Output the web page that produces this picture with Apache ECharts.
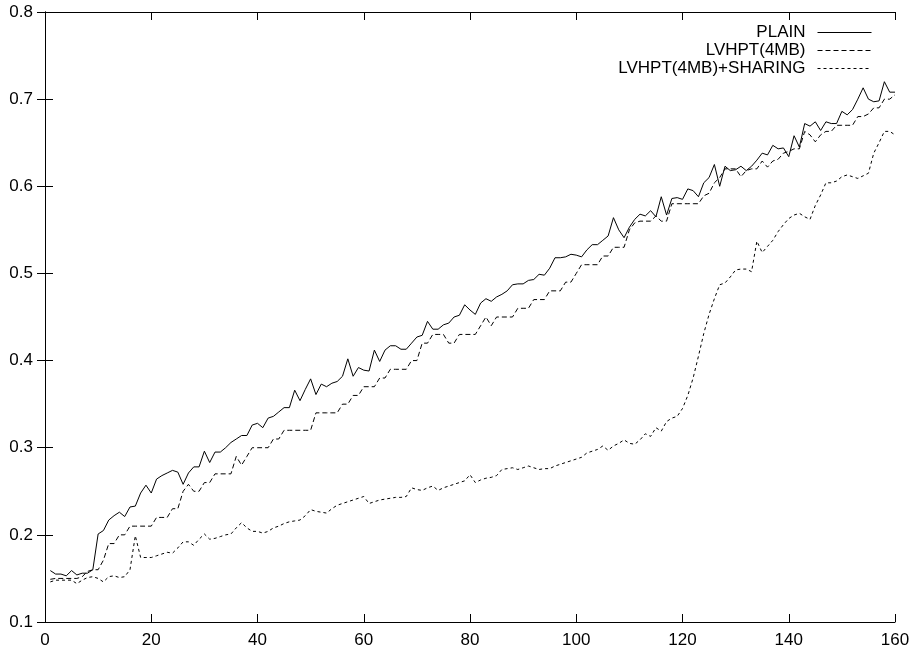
<!DOCTYPE html>
<html>
<head>
<meta charset="utf-8">
<script src="https://cdn.jsdelivr.net/npm/echarts@6.0.0/dist/echarts.min.js"></script>
<style>
html, body { margin: 0; padding: 0; background: #fff; }
#main { width: 914px; height: 651px; }
</style>
</head>
<body>
<div id="main"></div>
<script>
var seriesNames = ['PLAIN', 'LVHPT(4MB)', 'LVHPT(4MB)+SHARING'];

var xTicks = [0, 20, 40, 60, 80, 100, 120, 140, 160];
var yTicks = [0.1, 0.2, 0.3, 0.4, 0.5, 0.6, 0.7, 0.8];

// one value per run, runs 1..160
var plain = [
    0.159, 0.155, 0.155, 0.153, 0.159, 0.154, 0.156, 0.156, 0.160, 0.201,
    0.205, 0.217, 0.222, 0.226, 0.221, 0.232, 0.233, 0.248, 0.257, 0.248,
    0.264, 0.268, 0.271, 0.274, 0.272, 0.258, 0.271, 0.278, 0.278, 0.296,
    0.283, 0.295, 0.295, 0.300, 0.306, 0.310, 0.314, 0.314, 0.326, 0.328,
    0.323, 0.334, 0.336, 0.341, 0.346, 0.346, 0.366, 0.354, 0.367, 0.379,
    0.361, 0.373, 0.370, 0.374, 0.376, 0.382, 0.402, 0.382, 0.392, 0.389,
    0.388, 0.412, 0.399, 0.412, 0.417, 0.417, 0.413, 0.413, 0.420, 0.427,
    0.429, 0.445, 0.436, 0.436, 0.441, 0.443, 0.450, 0.452, 0.464, 0.458,
    0.453, 0.466, 0.471, 0.468, 0.473, 0.476, 0.480, 0.487, 0.488, 0.488,
    0.492, 0.493, 0.499, 0.498, 0.506, 0.518, 0.518, 0.519, 0.522, 0.521,
    0.519, 0.527, 0.533, 0.533, 0.538, 0.543, 0.564, 0.550, 0.541, 0.553,
    0.562, 0.568, 0.566, 0.572, 0.565, 0.588, 0.567, 0.586, 0.587, 0.585,
    0.597, 0.595, 0.588, 0.604, 0.610, 0.625, 0.600, 0.623, 0.618, 0.619,
    0.623, 0.618, 0.623, 0.630, 0.638, 0.636, 0.647, 0.643, 0.644, 0.634,
    0.658, 0.645, 0.672, 0.669, 0.674, 0.664, 0.674, 0.672, 0.672, 0.686,
    0.682, 0.688, 0.700, 0.713, 0.700, 0.697, 0.698, 0.720, 0.708, 0.708
];

var lvhpt = [
    0.149, 0.150, 0.150, 0.150, 0.150, 0.150, 0.152, 0.158, 0.160, 0.160,
    0.171, 0.190, 0.190, 0.200, 0.200, 0.210, 0.210, 0.210, 0.210, 0.210,
    0.220, 0.220, 0.220, 0.230, 0.230, 0.250, 0.258, 0.250, 0.250, 0.260,
    0.260, 0.270, 0.270, 0.270, 0.270, 0.290, 0.280, 0.290, 0.300, 0.300,
    0.300, 0.300, 0.310, 0.310, 0.320, 0.320, 0.320, 0.320, 0.320, 0.320,
    0.340, 0.340, 0.340, 0.340, 0.340, 0.350, 0.350, 0.360, 0.360, 0.370,
    0.370, 0.370, 0.380, 0.380, 0.390, 0.390, 0.390, 0.390, 0.400, 0.400,
    0.420, 0.420, 0.430, 0.430, 0.430, 0.420, 0.420, 0.430, 0.430, 0.430,
    0.430, 0.440, 0.450, 0.440, 0.450, 0.450, 0.450, 0.450, 0.460, 0.460,
    0.460, 0.470, 0.470, 0.470, 0.480, 0.480, 0.480, 0.490, 0.490, 0.500,
    0.510, 0.510, 0.510, 0.510, 0.520, 0.520, 0.530, 0.530, 0.530, 0.550,
    0.558, 0.560, 0.560, 0.560, 0.566, 0.560, 0.560, 0.580, 0.580, 0.580,
    0.580, 0.580, 0.580, 0.589, 0.592, 0.604, 0.610, 0.620, 0.620, 0.620,
    0.611, 0.618, 0.620, 0.620, 0.629, 0.622, 0.629, 0.631, 0.638, 0.640,
    0.643, 0.643, 0.663, 0.659, 0.651, 0.659, 0.663, 0.663, 0.670, 0.670,
    0.670, 0.670, 0.680, 0.680, 0.683, 0.690, 0.690, 0.700, 0.700, 0.705
];

var sharing = [
    0.146, 0.148, 0.148, 0.148, 0.148, 0.144, 0.148, 0.151, 0.152, 0.150,
    0.146, 0.152, 0.153, 0.151, 0.152, 0.160, 0.199, 0.174, 0.174, 0.174,
    0.176, 0.178, 0.180, 0.179, 0.185, 0.192, 0.192, 0.188, 0.195, 0.201,
    0.195, 0.196, 0.198, 0.200, 0.201, 0.208, 0.214, 0.208, 0.204, 0.204,
    0.202, 0.204, 0.208, 0.210, 0.213, 0.215, 0.216, 0.217, 0.222, 0.229,
    0.227, 0.226, 0.225, 0.230, 0.234, 0.236, 0.238, 0.240, 0.242, 0.244,
    0.236, 0.238, 0.240, 0.241, 0.242, 0.243, 0.243, 0.244, 0.254, 0.252,
    0.251, 0.254, 0.256, 0.251, 0.254, 0.256, 0.258, 0.260, 0.262, 0.269,
    0.260, 0.263, 0.265, 0.266, 0.268, 0.275, 0.276, 0.277, 0.275, 0.277,
    0.279, 0.277, 0.275, 0.276, 0.276, 0.279, 0.281, 0.283, 0.285, 0.287,
    0.289, 0.294, 0.296, 0.298, 0.302, 0.297, 0.302, 0.305, 0.309, 0.305,
    0.304, 0.309, 0.316, 0.313, 0.323, 0.319, 0.330, 0.334, 0.336, 0.345,
    0.360, 0.380, 0.405, 0.431, 0.453, 0.471, 0.487, 0.489, 0.496, 0.504,
    0.505, 0.505, 0.502, 0.537, 0.524, 0.531, 0.538, 0.548, 0.556, 0.563,
    0.567, 0.569, 0.565, 0.562, 0.578, 0.590, 0.604, 0.604, 0.606, 0.611,
    0.613, 0.611, 0.609, 0.612, 0.615, 0.638, 0.650, 0.663, 0.663, 0.659
];

var FONT = "'Liberation Sans', Arial, Helvetica, sans-serif";

var toPairs = function (vals) {
    var res = [];
    for (var i = 0; i < vals.length; i++) {
        res.push([i + 1, vals[i]]);
    }
    return res;
};

var mkLine = function (name, vals, dash) {
    return {
        name: name,
        type: 'line',
        data: toPairs(vals),
        symbol: 'none',
        showSymbol: false,
        animation: false,
        lineStyle: { color: '#000', width: 1, type: dash },
        itemStyle: { color: '#000' }
    };
};

var chart = echarts.init(document.getElementById('main'));

var tickLbl = { fontFamily: FONT, fontSize: 17, color: '#000' };
var frameLine = { show: true, lineStyle: { color: '#000', width: 1 } };
var inTick = { show: true, inside: true, length: 8, lineStyle: { color: '#000', width: 1 } };

chart.setOption({
    animation: false,
    backgroundColor: '#fff',
    grid: { left: 45, right: 19, top: 12, bottom: 29 },
    legend: {
        data: seriesNames,
        orient: 'vertical',
        right: 42,
        top: 24,
        padding: 0,
        align: 'right',
        itemWidth: 54,
        itemHeight: 13,
        itemGap: 1,
        itemStyle: { opacity: 0 },
        lineStyle: { width: 1 },
        textStyle: {
            fontFamily: FONT,
            fontSize: 17,
            lineHeight: 17,
            color: '#000',
            padding: [0, 7, 0, 0]
        }
    },
    xAxis: [{
        type: 'value',
        min: xTicks[0],
        max: xTicks[xTicks.length - 1],
        interval: xTicks[1] - xTicks[0],
        axisLine: frameLine,
        axisTick: inTick,
        splitLine: { show: false },
        axisLabel: Object.assign({ margin: 10 }, tickLbl)
    }, {
        type: 'value',
        position: 'top',
        min: xTicks[0],
        max: xTicks[xTicks.length - 1],
        interval: xTicks[1] - xTicks[0],
        axisLine: frameLine,
        axisTick: inTick,
        splitLine: { show: false },
        axisLabel: { show: false }
    }],
    yAxis: [{
        type: 'value',
        min: yTicks[0],
        max: yTicks[yTicks.length - 1],
        interval: 0.1,
        axisLine: frameLine,
        axisTick: inTick,
        splitLine: { show: false },
        axisLabel: Object.assign({
            margin: 12,
            formatter: function (v) { return v.toFixed(1); }
        }, tickLbl)
    }, {
        type: 'value',
        position: 'right',
        min: yTicks[0],
        max: yTicks[yTicks.length - 1],
        interval: 0.1,
        axisLine: frameLine,
        axisTick: inTick,
        splitLine: { show: false },
        axisLabel: { show: false }
    }],
    series: [
        mkLine(seriesNames[0], plain, 'solid'),
        mkLine(seriesNames[1], lvhpt, [5, 3]),
        mkLine(seriesNames[2], sharing, [3, 3])
    ]
});
window.onresize = chart.resize;
</script>
</body>
</html>
